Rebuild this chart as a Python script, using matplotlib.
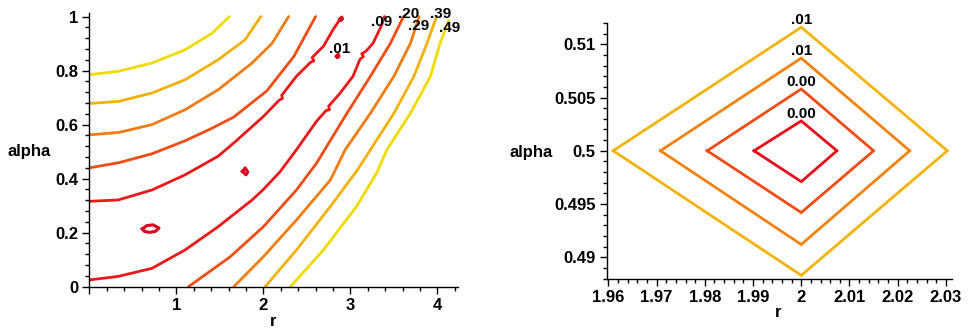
import matplotlib
matplotlib.use("Agg")
import matplotlib.pyplot as plt
from matplotlib.colors import LinearSegmentedColormap, Normalize
from matplotlib.ticker import MultipleLocator, FuncFormatter

plt.rcParams['font.family'] = ['Liberation Sans', 'DejaVu Sans']
plt.rcParams['font.weight'] = 'bold'
plt.rcParams['font.size'] = 12

# ---- left panel: contour levels and traced curves (r, alpha) ----
left_levels = [0.09, 0.20, 0.29, 0.39, 0.49]

# branches that start on the alpha axis
upper_r = [
    [0, 0.33, 0.72, 1.10, 1.48, 1.67, 2.00, 2.18, 2.22, 2.21, 2.38, 2.54, 2.58, 2.56, 2.69, 2.80, 2.89],
    [0, 0.34, 0.72, 1.10, 1.40, 1.66, 2.04, 2.35, 2.60],
    [0, 0.34, 0.72, 1.10, 1.48, 1.87, 2.10, 2.29],
    [0, 0.34, 0.72, 1.10, 1.48, 1.79, 1.97],
    [0, 0.33, 0.72, 1.10, 1.41, 1.61],
]
upper_a = [
    [0.316, 0.321, 0.358, 0.414, 0.483, 0.535, 0.630, 0.690, 0.697, 0.708, 0.779, 0.830, 0.836, 0.848, 0.890, 0.951, 0.995],
    [0.440, 0.459, 0.492, 0.540, 0.585, 0.628, 0.725, 0.852, 1.0],
    [0.562, 0.571, 0.600, 0.655, 0.729, 0.828, 0.901, 1.0],
    [0.678, 0.686, 0.717, 0.766, 0.840, 0.914, 1.0],
    [0.785, 0.797, 0.828, 0.877, 0.938, 1.0],
]

# branches that start on the r axis (or low on the alpha axis)
lower_r = [
    [0, 0.33, 0.72, 1.10, 1.48, 1.87, 2.00, 2.19, 2.38, 2.61, 2.72, 2.76, 2.75, 2.88, 3.03, 3.11, 3.15, 3.13, 3.18, 3.26, 3.36, 3.39],
    [1.14, 1.62, 2.00, 2.38, 2.61, 2.96, 3.23, 3.46, 3.61],
    [1.66, 2.00, 2.38, 2.77, 2.94, 3.23, 3.50, 3.69, 3.79],
    [2.02, 2.38, 2.77, 3.08, 3.23, 3.50, 3.73, 3.88, 3.99],
    [2.31, 2.69, 3.07, 3.30, 3.42, 3.69, 3.92, 4.03, 4.13],
]
lower_a = [
    [0.025, 0.038, 0.068, 0.136, 0.222, 0.321, 0.360, 0.425, 0.507, 0.612, 0.652, 0.655, 0.668, 0.716, 0.779, 0.842, 0.852, 0.862, 0.872, 0.901, 0.969, 1.0],
    [0.0, 0.111, 0.222, 0.358, 0.457, 0.642, 0.779, 0.901, 1.0],
    [0.0, 0.111, 0.247, 0.395, 0.507, 0.642, 0.779, 0.901, 1.0],
    [0.0, 0.136, 0.297, 0.432, 0.507, 0.642, 0.779, 0.901, 1.0],
    [0.0, 0.136, 0.297, 0.420, 0.507, 0.642, 0.779, 0.901, 0.985],
]

# small closed loops of the lowest level
island_level = 0.01
island_r = [
    [0.61, 0.66, 0.73, 0.80, 0.76, 0.69, 0.63, 0.61],
    [1.76, 1.79, 1.82, 1.80, 1.76],
    [2.84, 2.86, 2.87, 2.85, 2.84],
    [2.88, 2.90, 2.91, 2.89, 2.88],
]
island_a = [
    [0.214, 0.226, 0.229, 0.217, 0.205, 0.201, 0.205, 0.214],
    [0.427, 0.440, 0.425, 0.414, 0.427],
    [0.853, 0.860, 0.853, 0.848, 0.853],
    [0.990, 0.998, 0.992, 0.985, 0.990],
]

# ---- right panel: zoom around the minimum ----
right_levels = [0.0092, 0.0070, 0.0045, 0.0010]
diamond_r = [
    [1.9610, 2.0000, 2.0303, 2.0000, 1.9610],
    [1.9708, 2.0000, 2.0225, 2.0000, 1.9708],
    [1.9805, 2.0000, 2.0150, 2.0000, 1.9805],
    [1.9902, 2.0000, 2.0074, 2.0000, 1.9902],
]
diamond_a = [
    [0.5000, 0.5116, 0.5000, 0.4883, 0.5000],
    [0.5000, 0.5087, 0.5000, 0.4912, 0.5000],
    [0.5000, 0.5058, 0.5000, 0.4942, 0.5000],
    [0.5000, 0.5028, 0.5000, 0.4971, 0.5000],
]

# label nudges (pixels) for the crowded labels at the top of the left panel
label_nudge = [(-3, -5), (5, 3), (-1, -9), (4, 3), (1, -7)]

heat = LinearSegmentedColormap.from_list('heat', [
    (0.00, (0.88, 0.00, 0.12)),
    (0.20, (0.92, 0.12, 0.10)),
    (0.45, (0.94, 0.35, 0.08)),
    (0.65, (0.95, 0.55, 0.06)),
    (0.82, (0.95, 0.72, 0.04)),
    (1.00, (0.94, 0.86, 0.00)),
])


def level_text(v):
    s = f"{v:.2f}"
    return s if s == "0.00" else s.lstrip("0")


def tick_text(v, pos):
    return f"{round(v, 6):g}"


def style_axes(ax):
    for side in ('top', 'right'):
        ax.spines[side].set_visible(False)
    for side in ('left', 'bottom'):
        ax.spines[side].set_linewidth(1.0)
    ax.tick_params(which='major', direction='out', length=5, width=1, pad=3, labelsize=12)
    ax.tick_params(which='minor', direction='out', length=3, width=1)
    ax.xaxis.set_major_formatter(FuncFormatter(tick_text))
    ax.yaxis.set_major_formatter(FuncFormatter(tick_text))


fig = plt.figure(figsize=(9.69, 3.29), dpi=100)
ax1 = fig.add_axes([0.0922, 0.1286, 0.3808, 0.8310])
ax2 = fig.add_axes([0.6264, 0.1511, 0.3557, 0.7800])

# left panel
norm1 = Normalize(0.01, 0.49)
for lev, rr, aa in zip(left_levels, upper_r, upper_a):
    ax1.plot(rr, aa, color=heat(norm1(lev)), lw=2, solid_capstyle='round')
for lev, rr, aa, nudge in zip(left_levels, lower_r, lower_a, label_nudge):
    ax1.plot(rr, aa, color=heat(norm1(lev)), lw=2, solid_capstyle='round')
    ax1.annotate(level_text(lev), (rr[-1], aa[-1]), xytext=nudge,
                 textcoords='offset pixels', ha='center', va='center',
                 fontsize=11, fontweight='bold', annotation_clip=False)
for rr, aa in zip(island_r, island_a):
    ax1.plot(rr, aa, color=heat(norm1(island_level)), lw=2.2)
ax1.annotate(level_text(island_level), (island_r[2][0], island_a[2][0]),
             xytext=(3, 0), textcoords='offset pixels', ha='center', va='bottom',
             fontsize=11, fontweight='bold')

ax1.set_xlim(0, 4.24)
ax1.set_ylim(0, 1.012)
style_axes(ax1)
ax1.xaxis.set_major_locator(MultipleLocator(1))
ax1.xaxis.set_minor_locator(MultipleLocator(0.2))
ax1.yaxis.set_major_locator(MultipleLocator(0.2))
ax1.yaxis.set_minor_locator(MultipleLocator(0.04))
ax1.xaxis.set_major_formatter(FuncFormatter(lambda v, p: '' if v == 0 else f"{v:g}"))
ax1.set_xlabel('r', fontsize=12, fontweight='bold', va='center')
ax1.set_ylabel('alpha', fontsize=12, fontweight='bold', rotation=0, ha='center', va='center')
ax1.xaxis.set_label_coords(0.498, -0.129)
ax1.yaxis.set_label_coords(-0.162, 0.493)

# right panel
norm2 = Normalize(0.0, 0.0115)
for lev, rr, aa in zip(right_levels, diamond_r, diamond_a):
    ax2.plot(rr, aa, color=heat(norm2(lev)), lw=2, solid_joinstyle='miter')
    top = aa.index(max(aa))
    ax2.annotate(level_text(lev), (rr[top], aa[top]), xytext=(0, 0),
                 textcoords='offset pixels', ha='center', va='bottom',
                 fontsize=11, fontweight='bold')

ax2.set_xlim(1.9597, 2.0312)
ax2.set_ylim(0.48793, 0.51203)
style_axes(ax2)
ax2.xaxis.set_major_locator(MultipleLocator(0.01))
ax2.xaxis.set_minor_locator(MultipleLocator(0.002))
ax2.yaxis.set_major_locator(MultipleLocator(0.005))
ax2.yaxis.set_minor_locator(MultipleLocator(0.001))
ax2.set_xlabel('r', fontsize=12, fontweight='bold', va='center')
ax2.set_ylabel('alpha', fontsize=12, fontweight='bold', rotation=0, ha='center', va='center')
ax2.xaxis.set_label_coords(0.496, -0.131)
ax2.yaxis.set_label_coords(-0.221, 0.496)

fig.savefig('out.png', dpi=100)
